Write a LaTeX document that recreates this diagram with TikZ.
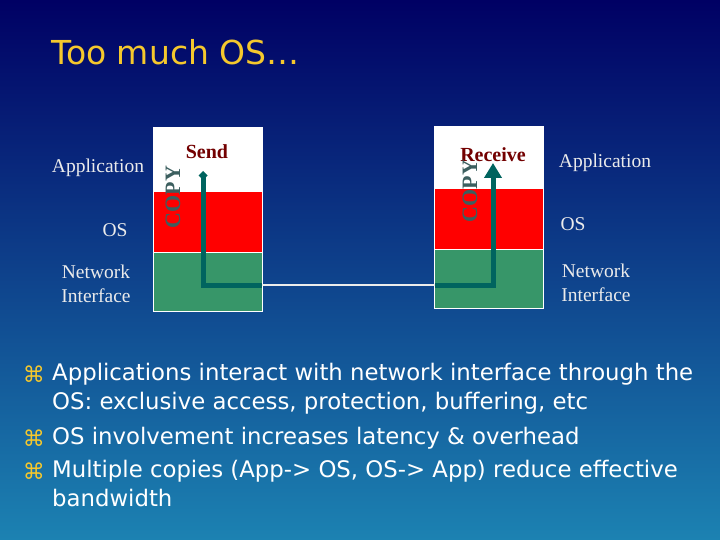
\documentclass[tikz,border=0pt]{standalone}
\usepackage{fontspec}
\setmainfont{Liberation Serif}
\newfontfamily\slidefont{DejaVu Sans}
\newfontfamily\symfont{DejaVu Sans}
\definecolor{slidetop}{RGB}{0,0,100}
\definecolor{slidebottom}{RGB}{28,130,178}
\definecolor{titleyellow}{RGB}{245,200,45}
\definecolor{labelwhite}{RGB}{235,235,235}
\definecolor{layerred}{RGB}{255,0,0}
\definecolor{layergreen}{RGB}{55,150,105}
\definecolor{copyteal}{RGB}{0,100,95}
\definecolor{copygray}{RGB}{60,95,95}
\definecolor{senddark}{RGB}{115,0,0}
\usetikzlibrary{arrows.meta, positioning}

\begin{document}
\begin{tikzpicture}[
        x=1pt, y=-1pt,
        layer/.style={draw=white, line width=0.6pt, minimum width=109pt,
                      inner sep=0pt, outer sep=0pt},
        stacklabel/.style={text=labelwhite, font=\fontsize{19.5}{24}\selectfont,
                           align=center},
        endlabel/.style={text=senddark, font=\fontsize{20}{22}\selectfont\bfseries},
        copylabel/.style={text=copygray, rotate=90,
                          font=\fontsize{22}{24}\selectfont\bfseries},
        copyline/.style={draw=copyteal, line width=5pt},
        wire/.style={draw=white!85!gray, line width=2pt},
        point/.style={anchor=north west, inner sep=0pt, align=left, text=white,
                      font=\slidefont\fontsize{22.8}{29}\selectfont},
        marker/.style={text=titleyellow, font=\symfont\fontsize{22}{24}\selectfont}
    ]
        % Background
        \shade[top color=slidetop, bottom color=slidebottom] (0,0) rectangle (720,540);
        \useasboundingbox (0,0) rectangle (720,540);

        % Title
        \node[anchor=west, text=titleyellow, font=\slidefont\fontsize{33}{40}\selectfont]
            (title) at (48,52) {Too much OS\ldots};

        % Sending host stack
        \node[layer, fill=white, minimum height=64pt] (sendapp) at (207.5,159) {};
        \node[layer, fill=layerred, minimum height=61pt, below=0pt of sendapp] (sendos) {};
        \node[layer, fill=layergreen, minimum height=59pt, below=0pt of sendos] (sendnic) {};

        % Receiving host stack
        \node[layer, fill=white, minimum height=62pt] (recvapp) at (489,157) {};
        \node[layer, fill=layerred, minimum height=61pt, below=0pt of recvapp] (recvos) {};
        \node[layer, fill=layergreen, minimum height=59pt, below=0pt of recvos] (recvnic) {};

        % Layer names
        \node[stacklabel] (sendapplabel) at (98,168) {Application};
        \node[stacklabel] (sendoslabel) at (115,230) {OS};
        \node[stacklabel] (sendniclabel) at (96,284) {Network\\ Interface};
        \node[stacklabel] (recvapplabel) at (605,163) {Application};
        \node[stacklabel] (recvoslabel) at (573,224) {OS};
        \node[stacklabel] (recvniclabel) at (596,283) {Network\\ Interface};

        \node[endlabel] (sendlabel) at (207,152) {Send};
        \node[endlabel] (recvlabel) at (493,155) {Receive};
        \node[copylabel] (sendcopy) at (173,197) {COPY};
        \node[copylabel] (recvcopy) at (470,191) {COPY};

        % Data path
        \coordinate (sendsrc) at (203,171);
        \coordinate (sendbend) at (203,285);
        \coordinate (sendout) at (sendnic.east |- sendbend);
        \coordinate (recvbend) at (493,285);
        \coordinate (recvin) at (recvnic.west |- recvbend);
        \coordinate (recvdst) at (493,163);
        \draw[copyline, {Diamond[length=9pt, width=9pt]}-] (sendsrc) -- (sendbend) -- (sendout);
        \draw[wire] (sendout) -- (recvin);
        \draw[copyline, -{Triangle[length=15pt, width=17pt]}] (recvin) -- (recvbend) -- (recvdst);

        % Bullet points
        \node[marker] (mark1) at (34,374) {⌘};
        \node[point] (point1) at (52,363)
            {Applications interact with network interface through the\\
             OS: exclusive access, protection, buffering, etc};
        \node[marker] (mark2) at (34,438) {⌘};
        \node[point] (point2) at (52,427)
            {OS involvement increases latency \& overhead};
        \node[marker] (mark3) at (34,471) {⌘};
        \node[point] (point3) at (52,460)
            {Multiple copies (App-> OS, OS-> App) reduce effective\\
             bandwidth};
\end{tikzpicture}
\end{document}
